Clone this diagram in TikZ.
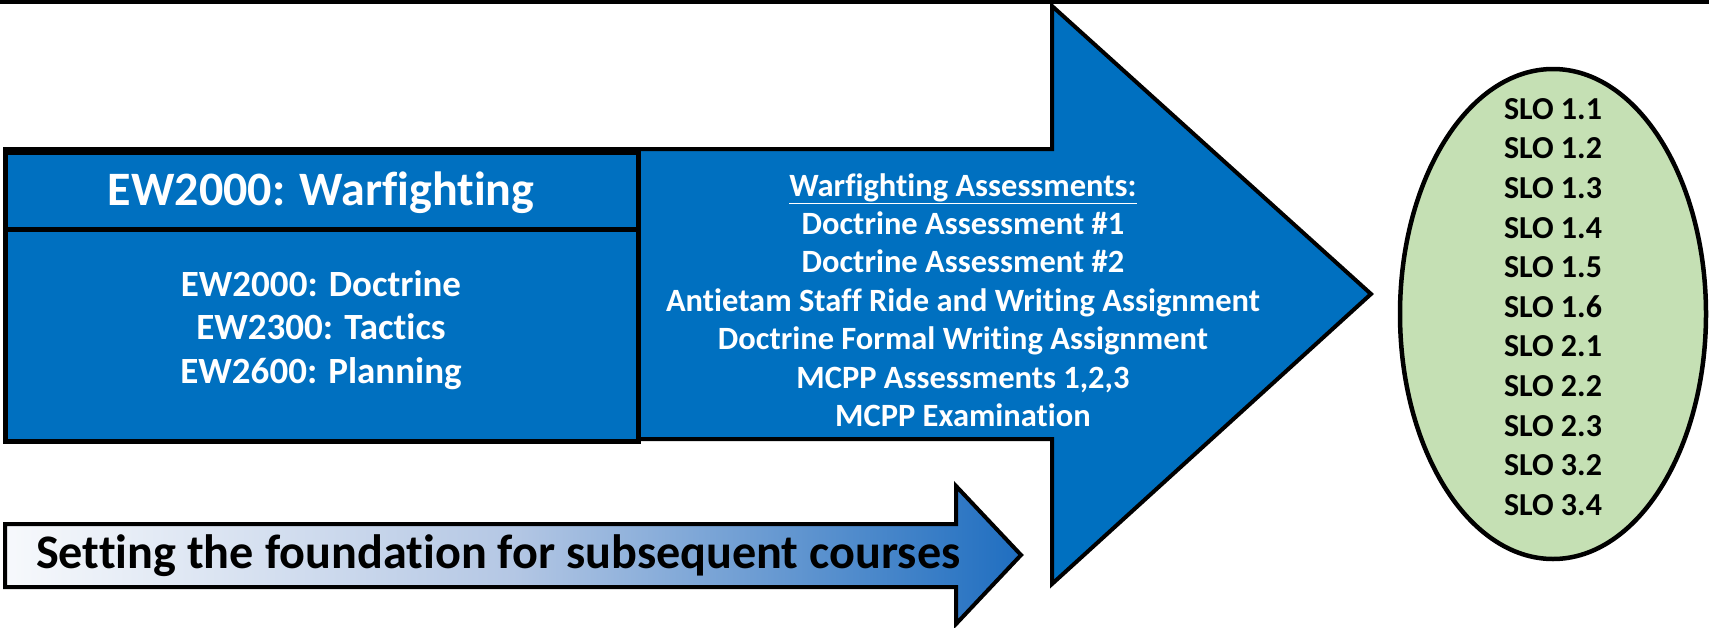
\documentclass[tikz,border=0pt]{standalone}
\usepackage{fontspec}
\setmainfont{Carlito}[Ligatures={NoCommon},RawFeature={-liga;-dlig;-clig}]
\definecolor{mainblue}{HTML}{0070C0}
\definecolor{slogreen}{HTML}{C5E0B4}
\definecolor{gradleft}{HTML}{F7F9FC}
\definecolor{gradmid}{HTML}{B4C7E4}
\definecolor{gradright}{HTML}{1F6EC0}
\begin{document}
\begin{tikzpicture}[x=1pt,y=-1pt,
  outline/.style={draw=black,line join=miter},
  whitetext/.style={text=white,font=\bfseries,align=center,inner sep=0pt},
  blacktext/.style={text=black,font=\bfseries,align=center,inner sep=0pt}]
\useasboundingbox (0,0) rectangle (1709,627);
% top rule
\draw[line width=4pt] (0,2) -- (1709,2);
% big arrow
\path[outline,fill=mainblue,line width=4pt]
  (5,149) -- (1052,149) -- (1052,6) -- (1371,294) -- (1052,584) -- (1052,439) -- (5,439) -- cycle;
% left course box
\draw[outline,fill=mainblue,line width=5pt] (5,152) rectangle (638,441);
\draw[line width=5pt] (5,229) -- (638,229);
\node[whitetext,font=\bfseries\fontsize{48}{54}\selectfont] (title) at (321,193) {EW2000: Warfighting};
\node[whitetext,font=\bfseries\fontsize{37}{43.6}\selectfont] (courses) at (321,330)
  {EW2000: Doctrine\\EW2300: Tactics\\EW2600: Planning};
\node[whitetext,font=\bfseries\fontsize{32.5}{38.4}\selectfont] (assess) at (963,300)
  {\underline{Warfighting Assessments:}\\Doctrine Assessment \#1\\Doctrine Assessment \#2\\Antietam Staff Ride and Writing Assignment\\Doctrine Formal Writing Assignment\\MCPP Assessments 1,2,3\\MCPP Examination};
% ellipse of SLOs
\draw[fill=slogreen,line width=4.5pt] (1553,314) ellipse [x radius=153, y radius=245];
\node[blacktext,font=\bfseries\fontsize{32}{39.6}\selectfont] (slo) at (1553,307)
  {SLO 1.1\\SLO 1.2\\SLO 1.3\\SLO 1.4\\SLO 1.5\\SLO 1.6\\SLO 2.1\\SLO 2.2\\SLO 2.3\\SLO 3.2\\SLO 3.4};
% small gradient arrow
\path[outline,line width=4pt,left color=gradleft,right color=gradright,middle color=gradmid]
  (5,524) -- (956,524) -- (956,486) -- (1021,555) -- (956,624) -- (956,587) -- (5,587) -- cycle;
\node[blacktext,font=\bfseries\fontsize{48.2}{52}\selectfont,anchor=west] (found) at (36,556)
  {Setting the foundation for subsequent courses};
\end{tikzpicture}
\end{document}
